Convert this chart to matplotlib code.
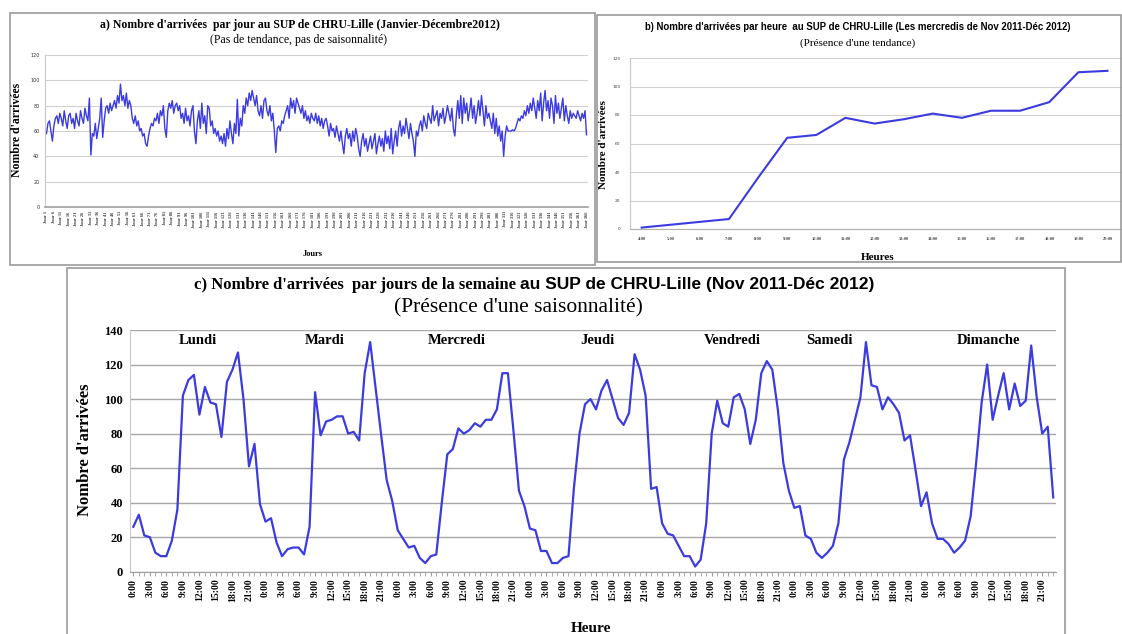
import matplotlib.pyplot as plt
from matplotlib.patches import Rectangle
from matplotlib.ticker import MultipleLocator

W, H = 1122, 634
SERIF = ["Liberation Serif", "DejaVu Serif"]
SANS = ["Liberation Sans Narrow", "Liberation Sans", "DejaVu Sans"]
BLUE = "#3b3be0"

# a) daily arrivals, January-December 2012 (366 days)
daily_arrivals = [
    58, 66, 68, 60, 52, 64, 70, 72, 66, 74,
    70, 64, 76, 68, 62, 72, 74, 66, 70, 62,
    74, 68, 64, 76, 70, 66, 78, 72, 68, 86,
    41, 58, 56, 66, 54, 62, 70, 86, 55, 68,
    78, 80, 74, 82, 76, 80, 84, 78, 88, 82,
    97, 84, 88, 80, 90, 78, 84, 80, 70, 66,
    72, 64, 68, 60, 62, 56, 58, 50, 48, 56,
    62, 66, 64, 70, 68, 74, 66, 76, 72, 80,
    62, 55, 76, 82, 78, 84, 74, 80, 82, 76,
    80, 70, 74, 66, 78, 68, 72, 64, 76, 80,
    60, 50, 68, 76, 62, 82, 66, 72, 58, 80,
    78, 64, 68, 58, 62, 56, 60, 52, 56, 50,
    58, 48, 62, 54, 68, 58, 50, 66, 58, 85,
    56, 70, 64, 80, 74, 86, 80, 90, 84, 92,
    86, 80, 88, 76, 72, 80, 70, 84, 86, 76,
    72, 80, 68, 74, 60, 43, 62, 64, 60, 68,
    66, 72, 76, 80, 70, 86, 78, 84, 74, 86,
    82, 78, 74, 80, 70, 76, 68, 72, 66, 74,
    70, 68, 74, 66, 72, 64, 70, 62, 68, 70,
    64, 56, 66, 60, 62, 55, 64, 58, 52, 60,
    50, 42, 56, 62, 54, 58, 48, 60, 52, 62,
    56, 46, 40, 52, 58, 48, 54, 44, 50, 56,
    46, 52, 58, 42, 50, 56, 48, 54, 44, 60,
    50, 56, 46, 62, 42, 52, 60, 48, 62, 68,
    56, 64, 58, 70, 62, 54, 66, 58, 52, 40,
    60, 56, 64, 68, 60, 72, 66, 62, 74, 70,
    66, 80, 68, 72, 76, 64, 74, 70, 78, 66,
    72, 80, 74, 68, 78, 62, 56, 72, 84, 70,
    88, 66, 86, 74, 82, 68, 76, 86, 70, 80,
    66, 74, 84, 72, 88, 76, 64, 80, 70, 74,
    68, 62, 74, 58, 70, 56, 64, 52, 60, 40,
    56, 64, 60, 60, 60, 61, 60, 62, 66, 70,
    68, 72, 70, 76, 72, 80, 74, 82, 76, 86,
    78, 70, 84, 76, 90, 68, 82, 92, 76, 84,
    70, 86, 80, 66, 88, 74, 82, 70, 78, 86,
    68, 80, 72, 66, 76, 70, 74, 72, 70, 76,
    72, 68, 74, 70, 76, 57,
]
day_ticks = list(range(0, 366, 5))
day_tick_labels = [f"Jour {d + 1}" for d in day_ticks]

# b) Wednesdays, arrivals per hour
wed_hours = ["4:00", "5:00", "6:00", "7:00", "8:00", "9:00", "10:00", "11:00",
             "12:00", "13:00", "14:00", "15:00", "16:00", "17:00", "18:00",
             "19:00", "20:00"]
wed_arrivals = [1, 3, 5, 7, 36, 64, 66, 78, 74, 77, 81, 78, 83, 83, 89, 110, 111]

# c) arrivals per hour over the week
weekdays = ["Lundi", "Mardi", "Mercredi", "Jeudi", "Vendredi", "Samedi", "Dimanche"]
week_arrivals = [
    # Lundi
    26, 33, 21, 20, 11, 9, 9, 18, 36, 102, 111, 114,
    91, 107, 98, 97, 78, 110, 117, 127, 100, 61, 74, 39,
    # Mardi
    29, 31, 17, 9, 13, 14, 14, 10, 26, 104, 79, 87,
    88, 90, 90, 80, 81, 76, 115, 133, 106, 79, 53, 41,
    # Mercredi
    24, 19, 14, 15, 8, 5, 9, 10, 40, 68, 71, 83,
    80, 82, 86, 84, 88, 88, 94, 115, 115, 82, 47, 38,
    # Jeudi
    25, 24, 12, 12, 5, 5, 8, 9, 49, 80, 97, 100,
    94, 105, 111, 100, 89, 85, 92, 126, 117, 102, 48, 49,
    # Vendredi
    28, 22, 21, 15, 9, 9, 3, 7, 28, 80, 99, 86,
    84, 101, 103, 94, 74, 88, 115, 122, 117, 94, 63, 47,
    # Samedi
    37, 38, 21, 19, 11, 8, 11, 15, 28, 65, 75, 88,
    101, 133, 108, 107, 94, 101, 97, 92, 76, 79, 59, 38,
    # Dimanche
    46, 28, 19, 19, 16, 11, 14, 18, 32, 63, 98, 120,
    88, 102, 115, 94, 109, 96, 99, 131, 101, 80, 84, 43,
]
week_ticks = list(range(0, 168, 3))
week_tick_labels = [f"{h % 24}:00" for h in week_ticks]
weekday_label_x = [11.8, 34.8, 58.7, 84.2, 108.8, 126.3, 155.3]


def box(x0, y0, x1, y1):
    return [x0 / W, 1 - y1 / H, (x1 - x0) / W, (y1 - y0) / H]


def ftext(x, y, s, **kw):
    fig.text(x / W, 1 - y / H, s, **kw)


fig = plt.figure(figsize=(W / 100, H / 100), dpi=100)

# panel frames
for x0, y0, x1, y1 in [(10, 13, 595, 265), (597, 15, 1121, 262), (67, 268, 1065, 640)]:
    fig.add_artist(Rectangle((x0 / W, 1 - y1 / H), (x1 - x0) / W, (y1 - y0) / H,
                             transform=fig.transFigure, fill=False,
                             edgecolor="#9a9a9a", linewidth=1.2))

# ---- a) daily arrivals
ax_a = fig.add_axes(box(45, 55, 588, 207))
ax_a.plot(range(len(daily_arrivals)), daily_arrivals, color=BLUE, linewidth=1.0)
ax_a.set_xlim(-1, 366)
ax_a.set_ylim(0, 120)
ax_a.yaxis.set_major_locator(MultipleLocator(20))
ax_a.set_xticks(day_ticks)
ax_a.set_xticklabels(day_tick_labels, rotation=90, fontsize=3.2,
                     family=SERIF, fontweight="bold", color="#333333")
ax_a.tick_params(axis="y", labelsize=3.5, length=0, pad=4, labelcolor="#333333")
ax_a.tick_params(axis="x", length=0, pad=3)
ax_a.grid(axis="y", color="#d0d0d0", linewidth=0.8)
for sp in ["top", "right"]:
    ax_a.spines[sp].set_visible(False)
ax_a.spines["left"].set_color("#c8c8c8")
ax_a.spines["bottom"].set_color("#a0a0a0")
ax_a.spines["bottom"].set_linewidth(1.2)
ftext(300, 25, "a) Nombre d'arrivées  par jour au SUP de CHRU-Lille (Janvier-Décembre2012)",
      ha="center", va="center", fontsize=8.5, family=SERIF, fontweight="bold")
ftext(299, 40, "(Pas de tendance, pas de saisonnalité)", ha="center", va="center",
      fontsize=8.5, family=SERIF)
ftext(17, 130, "Nombre d'arrivées", ha="center", va="center", rotation=90,
      fontsize=8.5, family=SERIF, fontweight="bold")
ftext(313, 254, "Jours", ha="center", va="center", fontsize=6, family=SERIF,
      fontweight="bold")

# ---- b) Wednesdays
ax_b = fig.add_axes(box(630, 58, 1122, 229))
ax_b.plot(range(len(wed_arrivals)), wed_arrivals, color=BLUE, linewidth=1.5)
ax_b.set_xlim(-0.4, 16.5)
ax_b.set_ylim(0, 120)
ax_b.yaxis.set_major_locator(MultipleLocator(20))
ax_b.set_xticks(range(len(wed_hours)))
ax_b.set_xticklabels(wed_hours, fontsize=3.2, family=SERIF, fontweight="bold",
                     color="#444444")
ax_b.tick_params(axis="y", labelsize=3.2, length=0, pad=7, labelcolor="#444444")
ax_b.tick_params(axis="x", length=0, pad=6)
ax_b.grid(axis="y", color="#d0d0d0", linewidth=0.8)
for sp in ["top", "right"]:
    ax_b.spines[sp].set_visible(False)
ax_b.spines["left"].set_color("#c8c8c8")
ax_b.spines["bottom"].set_color("#b0b0b0")
ftext(858, 27, "b) Nombre d'arrivées par heure  au SUP de CHRU-Lille (Les mercredis de Nov 2011-Déc 2012)",
      ha="center", va="center", fontsize=6.9, family=SANS, fontweight="bold")
ftext(858, 43, "(Présence d'une tendance)", ha="center", va="center", fontsize=8,
      family=SERIF)
ftext(604, 145, "Nombre d'arrivées", ha="center", va="center", rotation=90,
      fontsize=8, family=SERIF, fontweight="bold")
ftext(878, 258, "Heures", ha="center", va="center", fontsize=8, family=SERIF,
      fontweight="bold")

# ---- c) week profile
ax_c = fig.add_axes(box(130, 330, 1056, 571.7))
ax_c.plot(range(len(week_arrivals)), week_arrivals, color=BLUE, linewidth=1.6)
ax_c.set_xlim(-0.6, 167.5)
ax_c.set_ylim(0, 140)
ax_c.set_yticks(range(0, 141, 20))
ax_c.set_yticklabels([str(v) for v in range(0, 141, 20)], fontsize=9,
                     family=SERIF, fontweight="bold")
ax_c.set_xticks(week_ticks)
ax_c.set_xticklabels(week_tick_labels, rotation=90, fontsize=7, family=SERIF,
                     fontweight="bold")
ax_c.xaxis.set_minor_locator(MultipleLocator(1))
ax_c.tick_params(axis="x", which="both", length=3, color="#a0a0a0", pad=2)
ax_c.tick_params(axis="y", length=0, pad=5)
ax_c.grid(axis="y", color="#a8a8a8", linewidth=1.0)
for sp in ["top", "right"]:
    ax_c.spines[sp].set_visible(False)
ax_c.spines["left"].set_color("#c8c8c8")
ax_c.spines["bottom"].set_color("#a0a0a0")
for name, xpos in zip(weekdays, weekday_label_x):
    ax_c.text(xpos, 134, name, ha="center", va="center", fontsize=10.5,
              family=SERIF, fontweight="bold")
ftext(520, 285, "c) Nombre d'arrivées  par jours de la semaine ", ha="right",
      va="center", fontsize=12, family=SERIF, fontweight="bold")
ftext(520, 285, "au SUP de CHRU-Lille (Nov 2011-Déc 2012)", ha="left",
      va="center", fontsize=12.5, family=SANS, fontweight="bold")
ftext(518, 308, "(Présence d'une saisonnalité)", ha="center", va="center",
      fontsize=15.5, family=SERIF)
ftext(85, 450, "Nombre d'arrivées", ha="center", va="center", rotation=90,
      fontsize=12, family=SERIF, fontweight="bold")
ftext(591, 628, "Heure", ha="center", va="center", fontsize=11, family=SERIF,
      fontweight="bold")

fig.savefig("out.png", dpi=100)
